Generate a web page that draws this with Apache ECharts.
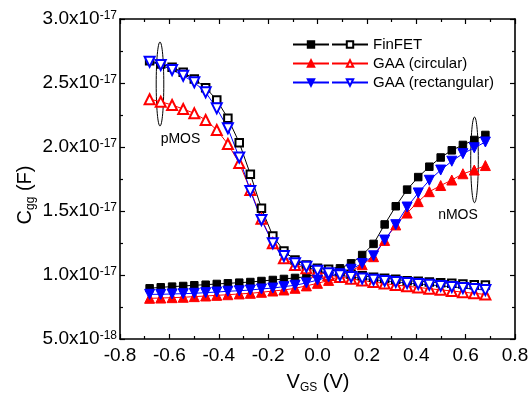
<!DOCTYPE html>
<html>
<head>
<meta charset="utf-8">
<script src="https://cdn.jsdelivr.net/npm/echarts@6/dist/echarts.min.js"></script>
<style>
  html, body { margin: 0; padding: 0; background: #fff; }
  #chart { width: 532px; height: 394px; }
</style>
</head>
<body>
<div id="chart"></div>
<script>
// gate voltage sweep (V)
const vgs = [-0.68, -0.635, -0.589, -0.544, -0.499, -0.453, -0.408, -0.363, -0.317, -0.272,
  -0.227, -0.181, -0.136, -0.091, -0.045, 0, 0.045, 0.091, 0.136, 0.181,
  0.227, 0.272, 0.317, 0.363, 0.408, 0.453, 0.499, 0.544, 0.589, 0.635, 0.68];

// Cgg, in units of 1e-17 F
const finfetN = [0.896, 0.904, 0.909, 0.914, 0.920, 0.924, 0.930, 0.935, 0.940, 0.945,
  0.953, 0.961, 0.969, 0.977, 0.987, 1.010, 1.026, 1.052, 1.091, 1.156,
  1.243, 1.395, 1.537, 1.667, 1.765, 1.846, 1.918, 1.974, 2.016, 2.055, 2.094];
const finfetP = [2.674, 2.648, 2.623, 2.584, 2.531, 2.463, 2.367, 2.224, 2.034, 1.787,
  1.521, 1.305, 1.188, 1.117, 1.078, 1.052, 1.044, 1.026, 1.005, 0.995,
  0.982, 0.974, 0.966, 0.955, 0.951, 0.945, 0.940, 0.935, 0.930, 0.924, 0.922];
const circN = [0.818, 0.820, 0.823, 0.826, 0.831, 0.836, 0.841, 0.846, 0.852, 0.857,
  0.865, 0.875, 0.883, 0.896, 0.915, 0.935, 0.958, 0.990, 1.030, 1.080,
  1.143, 1.270, 1.391, 1.484, 1.573, 1.651, 1.699, 1.742, 1.791, 1.820, 1.855];
const circP = [2.373, 2.354, 2.328, 2.297, 2.263, 2.211, 2.133, 2.023, 1.875, 1.664,
  1.440, 1.248, 1.130, 1.078, 1.052, 1.026, 1.000, 0.985, 0.970, 0.957,
  0.945, 0.933, 0.922, 0.912, 0.903, 0.893, 0.884, 0.875, 0.866, 0.857, 0.848];
const rectN = [0.849, 0.849, 0.852, 0.854, 0.857, 0.862, 0.867, 0.873, 0.877, 0.883,
  0.891, 0.898, 0.909, 0.920, 0.938, 0.960, 0.985, 1.010, 1.045, 1.090,
  1.150, 1.273, 1.393, 1.531, 1.641, 1.740, 1.820, 1.889, 1.948, 1.994, 2.039];
const rectP = [2.666, 2.641, 2.602, 2.557, 2.505, 2.427, 2.302, 2.146, 1.918, 1.657,
  1.430, 1.248, 1.148, 1.091, 1.065, 1.034, 1.013, 0.998, 0.985, 0.973,
  0.963, 0.954, 0.946, 0.938, 0.930, 0.923, 0.915, 0.907, 0.899, 0.890, 0.882];

// tick labels
const xTickLabels = ["-0.8", "-0.6", "-0.4", "-0.2", "0.0", "0.2", "0.4", "0.6", "0.8"];
const yTickMantissa = ["5.0x10", "1.0x10", "1.5x10", "2.0x10", "2.5x10", "3.0x10"];
const yTickExp = ["-18", "-17", "-17", "-17", "-17", "-17"];

// annotation ellipses: [x, yTop, yBottom] and their labels: [x, y]
const ellipses = [[-0.638, 2.82, 2.164], [0.636, 2.234, 1.565]];
const ellipseLabels = ["pMOS", "nMOS"];
const labelPos = [[-0.555, 2.062], [0.569, 1.469]];

const FONT = "Liberation Sans, Arial, sans-serif";
const pairs = (ys) => ys.map((y, i) => [vgs[i], y]);

const chart = echarts.init(document.getElementById("chart"));

const lineSeries = (name, ys, color, symbol, size, rotate) => ({
  name,
  type: "line",
  data: pairs(ys),
  symbol,
  symbolSize: size,
  symbolRotate: rotate || 0,
  lineStyle: { color, width: 1 },
  itemStyle: { color, borderColor: color, borderWidth: 1 },
  emphasis: { disabled: true },
});

const tickStyle = { color: "#000", width: 1.2 };
const baseAxis = {
  type: "value",
  axisLine: { show: true, onZero: false, lineStyle: { color: "#000", width: 1.6 } },
  axisTick: { show: true, inside: true, length: 5, lineStyle: tickStyle },
  minorTick: { show: true, splitNumber: 2, length: 3, lineStyle: tickStyle },
  splitLine: { show: false },
};

// rich styles for axis titles with a subscript
const titleRich = {
  n: { fontSize: 20, fontFamily: FONT, fill: "#000", verticalAlign: "top" },
  s: { fontSize: 12, fontFamily: FONT, fill: "#000", verticalAlign: "bottom", padding: [10, 0, 0, 0] },
};

chart.setOption({
  animation: false,
  backgroundColor: "#fff",
  grid: { left: 120, right: 17, top: 19, bottom: 55 },
  legend: [
    {
      left: 287, top: 32, orient: "vertical",
      itemWidth: 36, itemHeight: 8, itemGap: 4, selectedMode: false,
      data: ["FinFET n", "GAA (circular) n", "GAA (rectangular) n"],
      formatter: () => " ",
      textStyle: { fontSize: 15, fontFamily: FONT },
    },
    {
      left: 326, top: 32, orient: "vertical",
      itemWidth: 36, itemHeight: 8, itemGap: 4, selectedMode: false,
      data: ["FinFET", "GAA (circular)", "GAA (rectangular)"],
      textStyle: { fontSize: 15, fontFamily: FONT, color: "#000" },
    },
  ],
  xAxis: [
    {
      ...baseAxis, position: "bottom", min: -0.8, max: 0.8, interval: 0.2,
      axisLabel: {
        margin: 7, color: "#000", fontSize: 19, fontFamily: FONT,
        formatter: (v, i) => xTickLabels[i],
      },
    },
    { ...baseAxis, position: "top", min: -0.8, max: 0.8, interval: 0.2, axisLabel: { show: false } },
  ],
  yAxis: [
    {
      ...baseAxis, position: "left", min: 0.5, max: 3.0, interval: 0.5,
      axisLabel: {
        margin: 3, color: "#000",
        formatter: (v, i) => `{m|${yTickMantissa[i]}}{e|${yTickExp[i]}}`,
        rich: {
          m: { fontSize: 19, fontFamily: FONT, color: "#000", verticalAlign: "bottom" },
          e: { fontSize: 12, fontFamily: FONT, color: "#000", verticalAlign: "top" },
        },
      },
    },
    { ...baseAxis, position: "right", min: 0.5, max: 3.0, interval: 0.5, axisLabel: { show: false } },
  ],
  graphic: [
    {
      type: "text", x: 26, y: 195, rotation: Math.PI / 2,
      style: { text: "{n|C}{s|gg}{n| (F)}", align: "center", verticalAlign: "middle", rich: titleRich },
    },
    {
      type: "text", x: 318, y: 383,
      style: { text: "{n|V}{s|GS}{n| (V)}", align: "center", verticalAlign: "middle", rich: titleRich },
    },
  ],
  series: [
    lineSeries("FinFET n", finfetN, "#000", "rect", 7.5),
    lineSeries("FinFET", finfetP, "#000", "emptyRect", 7.5),
    lineSeries("GAA (circular) n", circN, "#ff0000", "triangle", 10),
    lineSeries("GAA (circular)", circP, "#ff0000", "emptyTriangle", 10),
    lineSeries("GAA (rectangular) n", rectN, "#0000ff", "triangle", 10, 180),
    lineSeries("GAA (rectangular)", rectP, "#0000ff", "emptyTriangle", 10, 180),
    {
      type: "custom",
      silent: true,
      data: ellipses.map((e, i) => [e[0], e[1], e[2], labelPos[i][0], labelPos[i][1]]),
      renderItem: (params, api) => {
        const top = api.coord([api.value(0), api.value(1)]);
        const bot = api.coord([api.value(0), api.value(2)]);
        const lab = api.coord([api.value(3), api.value(4)]);
        return {
          type: "group",
          children: [
            {
              type: "ellipse",
              shape: { cx: top[0], cy: (top[1] + bot[1]) / 2, rx: 3.8, ry: (bot[1] - top[1]) / 2 },
              style: { fill: null, stroke: "#000", lineWidth: 1 },
            },
            {
              type: "text",
              style: {
                x: lab[0], y: lab[1], text: ellipseLabels[params.dataIndex],
                align: "center", verticalAlign: "middle",
                fontSize: 14, fontFamily: FONT, fill: "#000",
              },
            },
          ],
        };
      },
    },
  ],
});
</script>
</body>
</html>
